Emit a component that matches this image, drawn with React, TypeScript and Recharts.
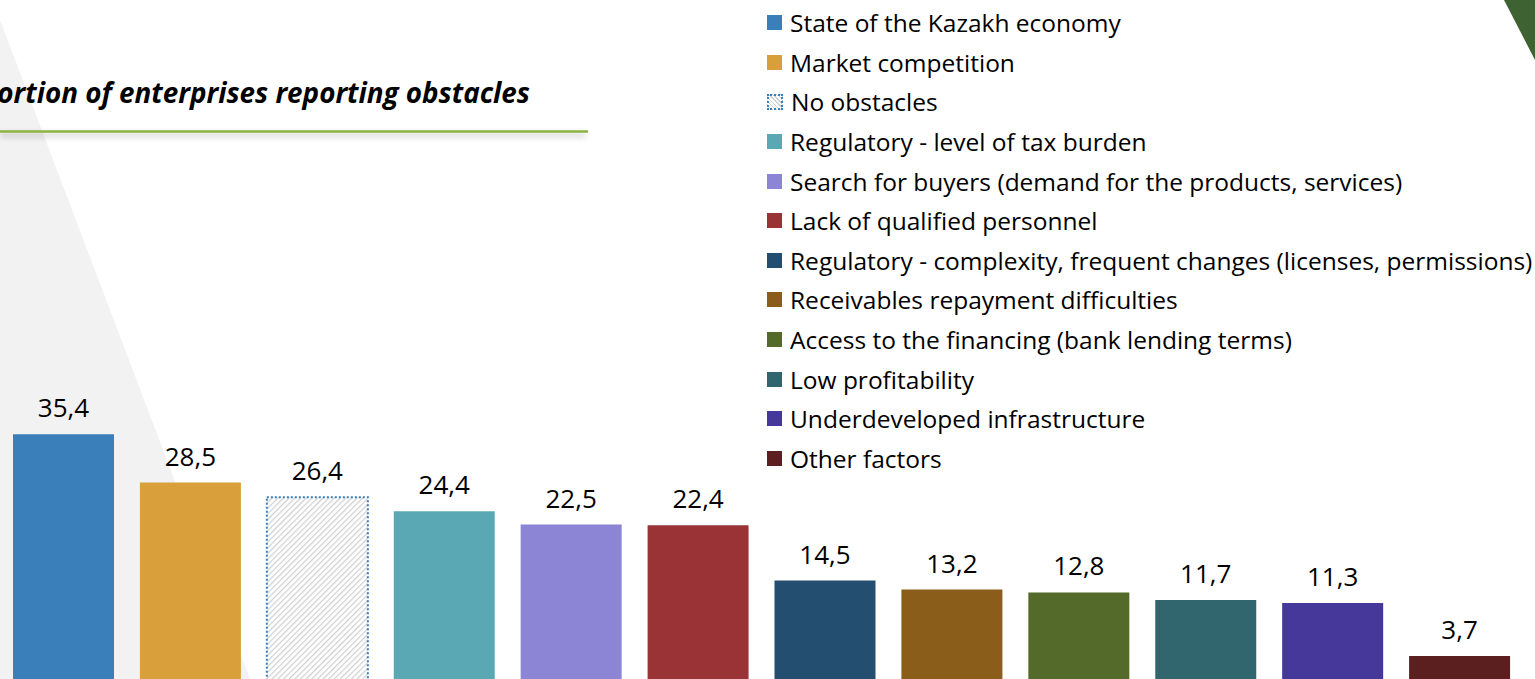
import React from 'react';
import { BarChart, Bar, Cell, XAxis, YAxis, Legend, LabelList } from 'recharts';

const categories = [
  'State of the Kazakh economy',
  'Market competition',
  'No obstacles',
  'Regulatory - level of tax burden',
  'Search for buyers (demand for the products, services)',
  'Lack of qualified personnel',
  'Regulatory - complexity, frequent changes (licenses, permissions)',
  'Receivables repayment difficulties',
  'Access to the financing (bank lending terms)',
  'Low profitability',
  'Underdeveloped infrastructure',
  'Other factors',
];

const shares = [35.4, 28.5, 26.4, 24.4, 22.5, 22.4, 14.5, 13.2, 12.8, 11.7, 11.3, 3.7];

const colors = [
  '#3a7fba',
  '#d89f3a',
  'url(#noObstacles)',
  '#5aa8b4',
  '#8c84d4',
  '#9a3336',
  '#234e70',
  '#8a5e1a',
  '#546a2a',
  '#32666e',
  '#45389a',
  '#5c1f1f',
];

const TITLE = 'Proportion of enterprises reporting obstacles';
const FONT = '"Open Sans", "Noto Sans", sans-serif';

const data = categories.map((name, i) => ({ name, value: shares[i] }));

const fmt = (v: number) => v.toFixed(1).replace('.', ',');

function LegendList() {
  return (
    <div style={{ fontFamily: FONT, fontSize: 24.5, color: '#000' }}>
      {categories.map((name, i) => (
        <div key={name} style={{ display: 'flex', alignItems: 'center', height: 39.6, whiteSpace: 'nowrap' }}>
          {i === 2 ? (
            <span
              style={{
                width: 12,
                height: 12,
                marginRight: 8,
                border: '2px dotted #3a7fba',
                background: 'repeating-linear-gradient(45deg, #d0d0d0 0 1px, #fff 1px 3px)',
              }}
            />
          ) : (
            <span style={{ width: 15, height: 15, marginRight: 8, background: colors[i] }} />
          )}
          {name}
        </div>
      ))}
    </div>
  );
}

export default function App() {
  return (
    <div
      style={{
        position: 'fixed',
        left: 0,
        top: 0,
        width: 1535,
        height: 679,
        overflow: 'hidden',
        background: '#fff',
      }}
    >
      {/* slide decoration + title */}
      <svg width={1535} height={679} style={{ position: 'absolute', left: 0, top: 0 }}>
        <defs>
          <pattern id="noObstacles" width="4" height="4" patternUnits="userSpaceOnUse" patternTransform="rotate(45)">
            <rect width="4" height="4" fill="#fff" />
            <rect width="1.2" height="4" fill="#cfcfcf" />
          </pattern>
          <filter id="lineShadow" x="-5%" y="-200%" width="110%" height="500%">
            <feGaussianBlur stdDeviation="3" />
          </filter>
        </defs>
        <polygon points="0,20 250,679 0,679" fill="#f2f2f2" />
        <polygon points="1504,0 1535,0 1535,60" fill="#3f6232" />
        <rect x={0} y={133} width={586} height={4} fill="#000" opacity={0.18} filter="url(#lineShadow)" />
        <line x1={0} y1={131.5} x2={588} y2={131.5} stroke="#8db443" strokeWidth={2.5} />
        <text
          x={530}
          y={103}
          textAnchor="end"
          fontFamily={FONT}
          fontSize={27.8}
          fontWeight="bold"
          fontStyle="italic"
          fill="#000"
        >
          {TITLE}
        </text>
      </svg>

      <div style={{ position: 'absolute', left: 0, top: 0 }}>
        <BarChart width={1535} height={700} data={data} margin={{ top: 402, right: 12, bottom: 18, left: 0 }} barSize={101}>
          <XAxis dataKey="name" hide />
          <YAxis domain={[0, 40]} hide />
          <Legend
            layout="vertical"
            align="center"
            verticalAlign="middle"
            content={() => <LegendList />}
            wrapperStyle={{ left: 767, top: 3, width: 770 }}
          />
          <Bar dataKey="value" isAnimationActive={false}>
            {data.map((d, i) => (
              <Cell
                key={d.name}
                fill={colors[i]}
                stroke={i === 2 ? '#3a7fba' : 'none'}
                strokeWidth={i === 2 ? 2 : 0}
                strokeDasharray={i === 2 ? '2 2' : undefined}
              />
            ))}
            <LabelList
              dataKey="value"
              position="top"
              offset={17}
              formatter={(v: any) => fmt(Number(v))}
              style={{ fontFamily: FONT, fontSize: 26, fill: '#000' }}
            />
          </Bar>
        </BarChart>
      </div>
    </div>
  );
}
